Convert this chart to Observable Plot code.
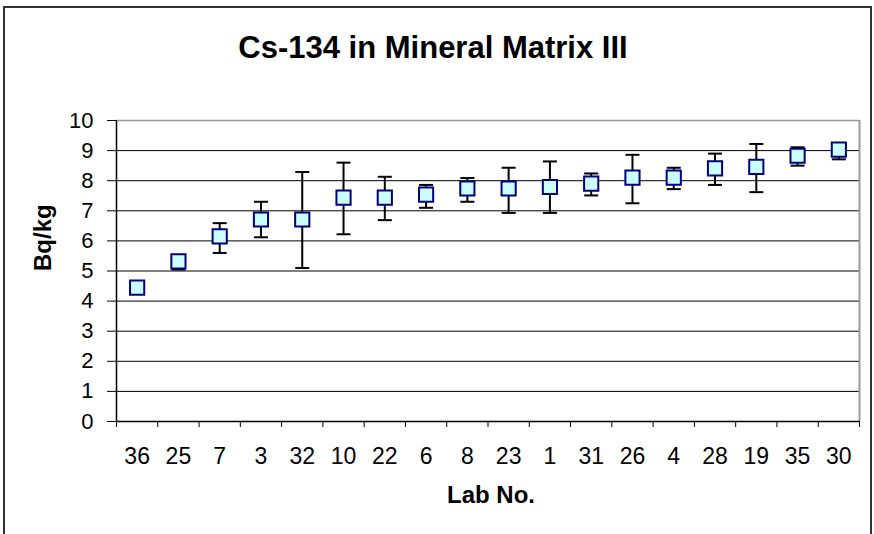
<!DOCTYPE html>
<html>
<head>
<meta charset="utf-8">
<script src="https://cdn.jsdelivr.net/npm/d3@7"></script>
<script src="https://cdn.jsdelivr.net/npm/@observablehq/plot@0.6"></script>
<style>
  html, body { margin: 0; padding: 0; background: #fff; }
  #wrap { position: relative; width: 874px; height: 534px; overflow: hidden; background: #fff; font-family: "Liberation Sans", Arial, sans-serif; }
  #border { position: absolute; left: 3px; top: 6px; width: 865px; height: 600px; border: 2px solid #333; }
  #title { position: absolute; left: 0; top: 32px; width: 866px; text-align: center; font-weight: bold; font-size: 31px; line-height: 31px; color: #000; }
  #chart { position: absolute; left: 0; top: 0; }
</style>
</head>
<body>
<div id="wrap">
  <div id="border"></div>
  <div id="chart"></div>
  <div id="title">Cs-134 in Mineral Matrix III</div>
</div>
<script>
const labs   = ["36","25","7","3","32","10","22","6","8","23","1","31","26","4","28","19","35","30"];
const values = [4.45,5.32,6.15,6.71,6.71,7.44,7.44,7.54,7.74,7.74,7.79,7.90,8.10,8.10,8.41,8.46,8.83,9.03];
const lo     = [4.35,5.05,5.60,6.12,5.10,6.22,6.69,7.10,7.30,6.93,6.93,7.51,7.25,7.72,7.86,7.62,8.50,8.71];
const hi     = [4.55,5.50,6.59,7.30,8.29,8.60,8.13,7.86,8.09,8.43,8.64,8.24,8.86,8.43,8.90,9.22,9.11,9.20];
const yTicks = [0,1,2,3,4,5,6,7,8,9,10];

const table = labs.map((lab, i) => ({lab, pos: i + 0.5, value: values[i], lo: lo[i], hi: hi[i]}));
const n = labs.length;

const capSymbol = {
  draw(context, size) {
    const w = Math.sqrt(size / Math.PI);
    context.moveTo(-w, 0);
    context.lineTo(w, 0);
  }
};

const chart = Plot.plot({
  width: 874,
  height: 534,
  marginLeft: 116,
  marginRight: 15,
  marginTop: 120,
  marginBottom: 113,
  style: {fontFamily: "'Liberation Sans', Arial, sans-serif", background: "transparent", color: "#000"},
  x: {domain: [0, n], axis: null},
  y: {domain: [0, 10], axis: null},
  marks: [
    Plot.gridY(yTicks.filter(d => d > 0 && d < 10), {stroke: "#000", strokeOpacity: 1, strokeWidth: 1}),
    Plot.ruleY([10], {stroke: "#999", strokeWidth: 1.5}),
    Plot.ruleX([n], {stroke: "#999", strokeWidth: 2}),
    Plot.axisY(yTicks, {tickSize: 9, tickPadding: 14, fontSize: 22, label: null, tickFormat: d => String(d)}),
    Plot.axisX(d3.range(0, n + 1), {tickSize: 6, tickFormat: () => "", label: null}),
    Plot.axisX(table.map(d => d.pos), {tickSize: 0, tickPadding: 26, fontSize: 23, label: null, tickFormat: d => labs[Math.floor(d)]}),
    Plot.ruleX([0], {stroke: "#000", strokeWidth: 1.5}),
    Plot.ruleY([0], {stroke: "#000", strokeWidth: 1.5}),
    Plot.ruleX(table, {x: "pos", y1: "lo", y2: "hi", stroke: "#000", strokeWidth: 2}),
    Plot.dot(table, {x: "pos", y: "lo", symbol: capSymbol, r: 7, stroke: "#000", strokeWidth: 2}),
    Plot.dot(table, {x: "pos", y: "hi", symbol: capSymbol, r: 7, stroke: "#000", strokeWidth: 2}),
    Plot.dot(table, {x: "pos", y: "value", symbol: "square", r: 8, fill: "#ccffff", stroke: "#000080", strokeWidth: 2}),
    Plot.text(["Bq/kg"], {frameAnchor: "left", dx: -73, rotate: -90, fontSize: 24, fontWeight: "bold", text: d => d}),
    Plot.text(["Lab No."], {frameAnchor: "bottom", dx: 3, dy: 81, fontSize: 24, fontWeight: "bold", text: d => d})
  ]
});
document.getElementById("chart").appendChild(chart);
</script>
</body>
</html>
